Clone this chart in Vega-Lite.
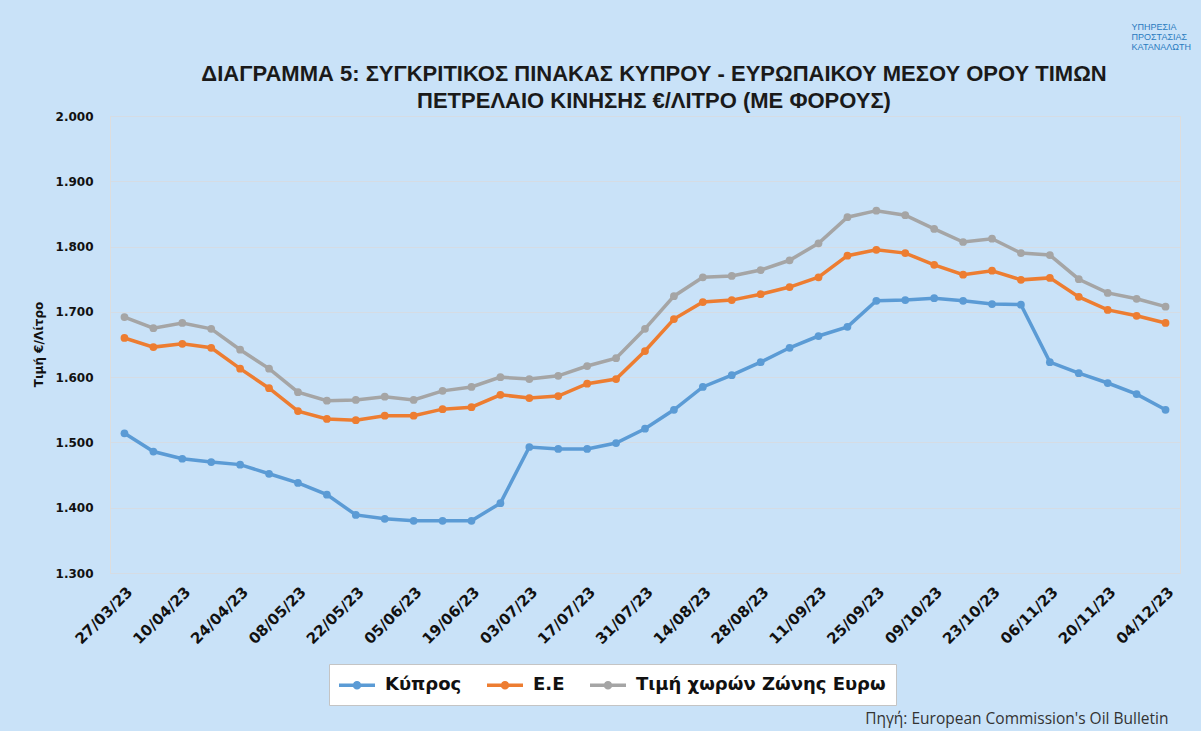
{
  "$schema": "https://vega.github.io/schema/vega-lite/v6.json",
  "autosize": {"type": "none"},
  "width": 1070,
  "height": 457,
  "padding": {"left": 110, "top": 116, "right": 21, "bottom": 158},
  "background": "#c9e2f8",
  "title": {
    "text": ["ΔΙΑΓΡΑΜΜΑ 5: ΣΥΓΚΡΙΤΙΚΟΣ ΠΙΝΑΚΑΣ ΚΥΠΡΟΥ - ΕΥΡΩΠΑΙΚΟΥ ΜΕΣΟΥ ΟΡΟΥ ΤΙΜΩΝ", "ΠΕΤΡΕΛΑΙΟ ΚΙΝΗΣΗΣ €/ΛΙΤΡΟ (ΜΕ ΦΟΡΟΥΣ)"],
    "font": "Liberation Sans",
    "fontSize": 22,
    "fontWeight": "bold",
    "color": "#1a1a1a",
    "anchor": "middle",
    "frame": "group",
    "dx": 9,
    "offset": -90,
    "lineHeight": 27
  },
  "datasets": {
    "prices": [
      {"date": "27/03/23", "series": "Κύπρος", "price": 1.514},
      {"date": "03/04/23", "series": "Κύπρος", "price": 1.486},
      {"date": "10/04/23", "series": "Κύπρος", "price": 1.475},
      {"date": "17/04/23", "series": "Κύπρος", "price": 1.470},
      {"date": "24/04/23", "series": "Κύπρος", "price": 1.466},
      {"date": "01/05/23", "series": "Κύπρος", "price": 1.452},
      {"date": "08/05/23", "series": "Κύπρος", "price": 1.438},
      {"date": "15/05/23", "series": "Κύπρος", "price": 1.420},
      {"date": "22/05/23", "series": "Κύπρος", "price": 1.389},
      {"date": "29/05/23", "series": "Κύπρος", "price": 1.383},
      {"date": "05/06/23", "series": "Κύπρος", "price": 1.380},
      {"date": "12/06/23", "series": "Κύπρος", "price": 1.380},
      {"date": "19/06/23", "series": "Κύπρος", "price": 1.380},
      {"date": "26/06/23", "series": "Κύπρος", "price": 1.407},
      {"date": "03/07/23", "series": "Κύπρος", "price": 1.493},
      {"date": "10/07/23", "series": "Κύπρος", "price": 1.490},
      {"date": "17/07/23", "series": "Κύπρος", "price": 1.490},
      {"date": "24/07/23", "series": "Κύπρος", "price": 1.499},
      {"date": "31/07/23", "series": "Κύπρος", "price": 1.521},
      {"date": "07/08/23", "series": "Κύπρος", "price": 1.550},
      {"date": "14/08/23", "series": "Κύπρος", "price": 1.585},
      {"date": "21/08/23", "series": "Κύπρος", "price": 1.603},
      {"date": "28/08/23", "series": "Κύπρος", "price": 1.623},
      {"date": "04/09/23", "series": "Κύπρος", "price": 1.645},
      {"date": "11/09/23", "series": "Κύπρος", "price": 1.663},
      {"date": "18/09/23", "series": "Κύπρος", "price": 1.677},
      {"date": "25/09/23", "series": "Κύπρος", "price": 1.717},
      {"date": "02/10/23", "series": "Κύπρος", "price": 1.718},
      {"date": "09/10/23", "series": "Κύπρος", "price": 1.721},
      {"date": "16/10/23", "series": "Κύπρος", "price": 1.717},
      {"date": "23/10/23", "series": "Κύπρος", "price": 1.712},
      {"date": "30/10/23", "series": "Κύπρος", "price": 1.711},
      {"date": "06/11/23", "series": "Κύπρος", "price": 1.623},
      {"date": "13/11/23", "series": "Κύπρος", "price": 1.606},
      {"date": "20/11/23", "series": "Κύπρος", "price": 1.591},
      {"date": "27/11/23", "series": "Κύπρος", "price": 1.574},
      {"date": "04/12/23", "series": "Κύπρος", "price": 1.550},
      {"date": "27/03/23", "series": "Ε.Ε", "price": 1.660},
      {"date": "03/04/23", "series": "Ε.Ε", "price": 1.646},
      {"date": "10/04/23", "series": "Ε.Ε", "price": 1.651},
      {"date": "17/04/23", "series": "Ε.Ε", "price": 1.645},
      {"date": "24/04/23", "series": "Ε.Ε", "price": 1.613},
      {"date": "01/05/23", "series": "Ε.Ε", "price": 1.583},
      {"date": "08/05/23", "series": "Ε.Ε", "price": 1.548},
      {"date": "15/05/23", "series": "Ε.Ε", "price": 1.536},
      {"date": "22/05/23", "series": "Ε.Ε", "price": 1.534},
      {"date": "29/05/23", "series": "Ε.Ε", "price": 1.541},
      {"date": "05/06/23", "series": "Ε.Ε", "price": 1.541},
      {"date": "12/06/23", "series": "Ε.Ε", "price": 1.551},
      {"date": "19/06/23", "series": "Ε.Ε", "price": 1.554},
      {"date": "26/06/23", "series": "Ε.Ε", "price": 1.573},
      {"date": "03/07/23", "series": "Ε.Ε", "price": 1.568},
      {"date": "10/07/23", "series": "Ε.Ε", "price": 1.571},
      {"date": "17/07/23", "series": "Ε.Ε", "price": 1.590},
      {"date": "24/07/23", "series": "Ε.Ε", "price": 1.597},
      {"date": "31/07/23", "series": "Ε.Ε", "price": 1.640},
      {"date": "07/08/23", "series": "Ε.Ε", "price": 1.689},
      {"date": "14/08/23", "series": "Ε.Ε", "price": 1.715},
      {"date": "21/08/23", "series": "Ε.Ε", "price": 1.718},
      {"date": "28/08/23", "series": "Ε.Ε", "price": 1.727},
      {"date": "04/09/23", "series": "Ε.Ε", "price": 1.738},
      {"date": "11/09/23", "series": "Ε.Ε", "price": 1.753},
      {"date": "18/09/23", "series": "Ε.Ε", "price": 1.786},
      {"date": "25/09/23", "series": "Ε.Ε", "price": 1.795},
      {"date": "02/10/23", "series": "Ε.Ε", "price": 1.790},
      {"date": "09/10/23", "series": "Ε.Ε", "price": 1.772},
      {"date": "16/10/23", "series": "Ε.Ε", "price": 1.757},
      {"date": "23/10/23", "series": "Ε.Ε", "price": 1.763},
      {"date": "30/10/23", "series": "Ε.Ε", "price": 1.749},
      {"date": "06/11/23", "series": "Ε.Ε", "price": 1.752},
      {"date": "13/11/23", "series": "Ε.Ε", "price": 1.723},
      {"date": "20/11/23", "series": "Ε.Ε", "price": 1.703},
      {"date": "27/11/23", "series": "Ε.Ε", "price": 1.694},
      {"date": "04/12/23", "series": "Ε.Ε", "price": 1.683},
      {"date": "27/03/23", "series": "Τιμή χωρών Ζώνης Ευρω", "price": 1.692},
      {"date": "03/04/23", "series": "Τιμή χωρών Ζώνης Ευρω", "price": 1.675},
      {"date": "10/04/23", "series": "Τιμή χωρών Ζώνης Ευρω", "price": 1.683},
      {"date": "17/04/23", "series": "Τιμή χωρών Ζώνης Ευρω", "price": 1.674},
      {"date": "24/04/23", "series": "Τιμή χωρών Ζώνης Ευρω", "price": 1.642},
      {"date": "01/05/23", "series": "Τιμή χωρών Ζώνης Ευρω", "price": 1.613},
      {"date": "08/05/23", "series": "Τιμή χωρών Ζώνης Ευρω", "price": 1.577},
      {"date": "15/05/23", "series": "Τιμή χωρών Ζώνης Ευρω", "price": 1.564},
      {"date": "22/05/23", "series": "Τιμή χωρών Ζώνης Ευρω", "price": 1.565},
      {"date": "29/05/23", "series": "Τιμή χωρών Ζώνης Ευρω", "price": 1.570},
      {"date": "05/06/23", "series": "Τιμή χωρών Ζώνης Ευρω", "price": 1.565},
      {"date": "12/06/23", "series": "Τιμή χωρών Ζώνης Ευρω", "price": 1.579},
      {"date": "19/06/23", "series": "Τιμή χωρών Ζώνης Ευρω", "price": 1.585},
      {"date": "26/06/23", "series": "Τιμή χωρών Ζώνης Ευρω", "price": 1.600},
      {"date": "03/07/23", "series": "Τιμή χωρών Ζώνης Ευρω", "price": 1.597},
      {"date": "10/07/23", "series": "Τιμή χωρών Ζώνης Ευρω", "price": 1.602},
      {"date": "17/07/23", "series": "Τιμή χωρών Ζώνης Ευρω", "price": 1.617},
      {"date": "24/07/23", "series": "Τιμή χωρών Ζώνης Ευρω", "price": 1.629},
      {"date": "31/07/23", "series": "Τιμή χωρών Ζώνης Ευρω", "price": 1.674},
      {"date": "07/08/23", "series": "Τιμή χωρών Ζώνης Ευρω", "price": 1.724},
      {"date": "14/08/23", "series": "Τιμή χωρών Ζώνης Ευρω", "price": 1.753},
      {"date": "21/08/23", "series": "Τιμή χωρών Ζώνης Ευρω", "price": 1.755},
      {"date": "28/08/23", "series": "Τιμή χωρών Ζώνης Ευρω", "price": 1.764},
      {"date": "04/09/23", "series": "Τιμή χωρών Ζώνης Ευρω", "price": 1.779},
      {"date": "11/09/23", "series": "Τιμή χωρών Ζώνης Ευρω", "price": 1.805},
      {"date": "18/09/23", "series": "Τιμή χωρών Ζώνης Ευρω", "price": 1.845},
      {"date": "25/09/23", "series": "Τιμή χωρών Ζώνης Ευρω", "price": 1.855},
      {"date": "02/10/23", "series": "Τιμή χωρών Ζώνης Ευρω", "price": 1.848},
      {"date": "09/10/23", "series": "Τιμή χωρών Ζώνης Ευρω", "price": 1.827},
      {"date": "16/10/23", "series": "Τιμή χωρών Ζώνης Ευρω", "price": 1.807},
      {"date": "23/10/23", "series": "Τιμή χωρών Ζώνης Ευρω", "price": 1.812},
      {"date": "30/10/23", "series": "Τιμή χωρών Ζώνης Ευρω", "price": 1.790},
      {"date": "06/11/23", "series": "Τιμή χωρών Ζώνης Ευρω", "price": 1.787},
      {"date": "13/11/23", "series": "Τιμή χωρών Ζώνης Ευρω", "price": 1.750},
      {"date": "20/11/23", "series": "Τιμή χωρών Ζώνης Ευρω", "price": 1.729},
      {"date": "27/11/23", "series": "Τιμή χωρών Ζώνης Ευρω", "price": 1.720},
      {"date": "04/12/23", "series": "Τιμή χωρών Ζώνης Ευρω", "price": 1.708}
    ],
    "logo": [
      {"date": "04/12/23", "price": 2.142, "label": "ΥΠΗΡΕΣΙΑ\nΠΡΟΣΤΑΣΙΑΣ\nΚΑΤΑΝΑΛΩΤΗ"}
    ]
  },
  "layer": [
    {
      "data": {"name": "prices"},
      "mark": {"type": "line", "strokeWidth": 3.5, "point": {"filled": true, "size": 60, "opacity": 1}},
      "encoding": {
        "x": {
          "field": "date",
          "type": "ordinal",
          "sort": null,
          "scale": {
            "domain": ["27/03/23", "03/04/23", "10/04/23", "17/04/23", "24/04/23", "01/05/23", "08/05/23", "15/05/23", "22/05/23", "29/05/23", "05/06/23", "12/06/23", "19/06/23", "26/06/23", "03/07/23", "10/07/23", "17/07/23", "24/07/23", "31/07/23", "07/08/23", "14/08/23", "21/08/23", "28/08/23", "04/09/23", "11/09/23", "18/09/23", "25/09/23", "02/10/23", "09/10/23", "16/10/23", "23/10/23", "30/10/23", "06/11/23", "13/11/23", "20/11/23", "27/11/23", "04/12/23"],
            "paddingOuter": 0.5
          },
          "axis": {
            "values": ["27/03/23", "10/04/23", "24/04/23", "08/05/23", "22/05/23", "05/06/23", "19/06/23", "03/07/23", "17/07/23", "31/07/23", "14/08/23", "28/08/23", "11/09/23", "25/09/23", "09/10/23", "23/10/23", "06/11/23", "20/11/23", "04/12/23"],
            "labelAngle": -45,
            "labelFont": "DejaVu Sans",
            "labelFontWeight": "bold",
            "labelFontSize": 15,
            "labelColor": "#111111",
            "labelPadding": 11,
            "ticks": false,
            "domain": false,
            "grid": false,
            "title": "Πηγή: European Commission's Oil Bulletin",
            "titleFont": "Open Sans",
            "titleFontSize": 15.5,
            "titleFontWeight": "normal",
            "titleColor": "#333333",
            "titleAnchor": "end",
            "titleAlign": "right",
            "titleBaseline": "middle",
            "titleX": 1058,
            "titleY": 145
          }
        },
        "y": {
          "field": "price",
          "type": "quantitative",
          "scale": {"domain": [1.3, 2.0], "nice": false, "zero": false},
          "axis": {
            "values": [1.3, 1.4, 1.5, 1.6, 1.7, 1.8, 1.9, 2.0],
            "format": ".3f",
            "labelFont": "DejaVu Sans",
            "labelFontWeight": "bold",
            "labelFontSize": 12,
            "labelColor": "#111111",
            "labelPadding": 17,
            "ticks": false,
            "domain": false,
            "gridColor": "#d5dce4",
            "gridWidth": 1.2,
            "title": "Τιμή €/Λίτρο",
            "titleFont": "DejaVu Sans",
            "titleFontWeight": "bold",
            "titleFontSize": 12,
            "titleColor": "#111111",
            "titleAngle": -90,
            "titleAlign": "center",
            "titleBaseline": "middle",
            "titleX": -72,
            "titleY": 228
          }
        },
        "color": {
          "field": "series",
          "type": "nominal",
          "scale": {
            "domain": ["Κύπρος", "Ε.Ε", "Τιμή χωρών Ζώνης Ευρω"],
            "range": ["#5b9bd5", "#ed7d31", "#a5a5a5"]
          },
          "legend": {
            "title": null,
            "orient": "none",
            "direction": "horizontal",
            "legendX": 219,
            "legendY": 548,
            "fillColor": "#ffffff",
            "strokeColor": "#c4c4c4",
            "padding": 10,
            "labelFont": "DejaVu Sans",
            "labelFontWeight": "bold",
            "labelFontSize": 18,
            "labelColor": "#111111",
            "labelOffset": 17,
            "labelLimit": 0,
            "columnPadding": 18,
            "symbolType": "M-2,0H2M-0.28,0A0.28,0.28 0 1,0 0.28,0A0.28,0.28 0 1,0 -0.28,0",
            "symbolSize": 324,
            "symbolOffset": 7,
            "symbolStrokeWidth": 3.5,
            "encode": {
              "symbols": {"update": {"fill": {"scale": "color", "field": "value"}, "fillOpacity": {"value": 1}}}
            }
          }
        }
      }
    },
    {
      "data": {"name": "logo"},
      "mark": {"type": "text", "align": "left", "baseline": "top", "dx": -34, "font": "Liberation Sans", "fontSize": 9, "lineHeight": 10, "lineBreak": "\n", "color": "#2a7bbf"},
      "encoding": {
        "x": {"field": "date", "type": "ordinal"},
        "y": {"field": "price", "type": "quantitative"},
        "text": {"field": "label"}
      }
    }
  ]
}
